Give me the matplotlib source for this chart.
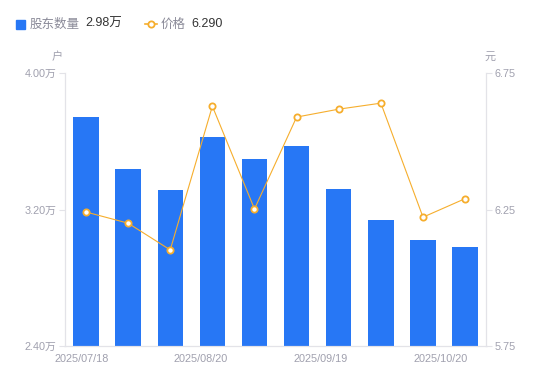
import matplotlib
matplotlib.use("Agg")
import matplotlib.pyplot as plt
from matplotlib.lines import Line2D

plt.rcParams["font.family"] = ["Liberation Sans", "Noto Sans CJK SC", "DejaVu Sans"]

# data
dates = ["2025/07/18", "2025/07/25", "2025/08/01", "2025/08/20", "2025/08/29",
         "2025/09/05", "2025/09/19", "2025/09/30", "2025/10/10", "2025/10/20"]
holders = [3.742, 3.437, 3.314, 3.625, 3.496, 3.572, 3.320, 3.138, 3.021, 2.980]  # 万户
price = [6.241, 6.200, 6.102, 6.629, 6.252, 6.589, 6.618, 6.640, 6.222, 6.290]
left_ticks = [2.40, 3.20, 4.00]
right_ticks = [5.75, 6.25, 6.75]
xlabel_pos = [-0.1, 2.73, 5.56, 8.41]
xlabel_text = ["2025/07/18", "2025/08/20", "2025/09/19", "2025/10/20"]

BLUE = "#2777F5"
ORANGE = "#F6AE2D"
GRID = "#E3E3E8"
TXT = "#A0A0AE"

fig = plt.figure(figsize=(5.5, 3.81), dpi=100)
ax = fig.add_axes([0.118, 0.092, 0.766, 0.716])
x = list(range(len(dates)))
ax.bar(x, holders, width=0.6, color=BLUE, zorder=2)
ax.set_xlim(-0.5, len(dates) - 0.5)
ax.set_ylim(2.40, 4.00)
ax.set_yticks(left_ticks)
ax.set_yticklabels([f"{v:.2f}万" for v in left_ticks])
ax.set_xticks(xlabel_pos)
ax.set_xticklabels(xlabel_text)
ax.tick_params(axis="x", length=0, pad=6, labelsize=7.8, colors=TXT)
ax.tick_params(axis="y", length=4, width=0.8, color=GRID, pad=2, labelsize=7.8, labelcolor=TXT)
for s in ["left", "bottom", "right"]:
    ax.spines[s].set_color(GRID)
ax.spines["top"].set_visible(False)

ax2 = ax.twinx()
ax2.plot(x, price, color=ORANGE, lw=0.8, marker="o", ms=4.5, mfc="white",
         mec=ORANGE, mew=1.3, zorder=3)
ax2.set_ylim(5.75, 6.75)
ax2.set_yticks(right_ticks)
ax2.set_yticklabels([f"{v:.2f}" for v in right_ticks])
ax2.tick_params(axis="y", length=4, width=0.8, color=GRID, pad=2, labelsize=7.8, labelcolor=TXT)
for s in ["left", "bottom", "right"]:
    ax2.spines[s].set_color(GRID)
ax2.spines["top"].set_visible(False)

cjk = ["Noto Sans CJK SC", "DejaVu Sans"]
fig.text(57 / 550, 1 - 57 / 381, "户", fontsize=8, color=TXT, ha="center", va="center", family=cjk)
fig.text(490 / 550, 1 - 57 / 381, "元", fontsize=8, color=TXT, ha="center", va="center", family=cjk)

# legend row
fig.patches.append(plt.Rectangle((16 / 550, 1 - 29 / 381), 9 / 550, 9 / 381,
                                 transform=fig.transFigure, color=BLUE))
fig.text(30 / 550, 1 - 24 / 381, "股东数量", fontsize=9, color="#8A8A98", va="center", family=cjk)
fig.text(85 / 550, 1 - 24 / 381, f"{holders[-1]:.2f}万", fontsize=9, color="#333333", va="center")
fig.lines.append(Line2D([145 / 550, 157 / 550], [1 - 24 / 381, 1 - 24 / 381],
                        transform=fig.transFigure, color=ORANGE, lw=1.2))
fig.lines.append(Line2D([151 / 550], [1 - 24 / 381], transform=fig.transFigure,
                        color=ORANGE, marker="o", ms=4.5, mfc="white", mew=1.3))
fig.text(161 / 550, 1 - 24 / 381, "价格", fontsize=9, color="#8A8A98", va="center", family=cjk)
fig.text(191 / 550, 1 - 24 / 381, f"{price[-1]:.3f}", fontsize=9, color="#333333", va="center")

fig.savefig("out.png", dpi=100)
